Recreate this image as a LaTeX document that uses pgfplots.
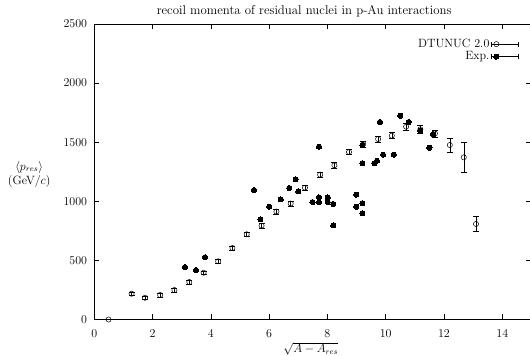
\documentclass[12pt,border=0pt]{standalone}
\usepackage{pgfplots}
\pgfplotsset{compat=1.18}
\begin{document}
\begin{tikzpicture}
\begin{axis}[
  scale only axis, width=437.1pt, height=295.5pt,
  at={(0,0)}, anchor=south west,
  xmin=0, xmax=15, ymin=0, ymax=2500,
  xtick={0,2,...,14}, ytick={0,500,...,2500},
  /pgf/number format/set thousands separator={},
  tick align=inside, major tick length=5pt,
  tick style={black, line width=0.5pt},
  axis line style={line width=0.5pt},
  yticklabel style={xshift=-3pt},
  xticklabel style={yshift=-6pt},
  title={recoil momenta of residual nuclei in p-Au interactions},
  title style={font=\fontsize{12.8}{15}\selectfont, at={(axis description cs:0.48,1)}, anchor=base, yshift=3.5pt, inner sep=0pt},
  xlabel={$\sqrt{A-A_{res}}$},
  xlabel style={at={(axis description cs:0.495,0)}, anchor=north, yshift=-22.5pt, inner sep=0pt},
  ylabel={$\langle p_{res}\rangle$\\(GeV/$c$)},
  ylabel style={rotate=-90, at={(axis description cs:-0.149,0.491)}, anchor=center, align=center, inner sep=0pt},
  legend style={draw=none, fill=none, at={(axis description cs:0.970,0.954)}, anchor=north east,
    legend cell align=right, row sep=0pt, inner sep=0pt,
    nodes={inner sep=1.2pt}},
  legend plot pos=right,
  legend image code/.code={
    \draw[black, line width=0.5pt] (0pt,0pt) -- (27pt,0pt);
    \draw[black, line width=0.5pt] (0pt,-2.5pt) -- (0pt,2.5pt) (27pt,-2.5pt) -- (27pt,2.5pt);
    \draw[#1] plot coordinates {(5.5pt,0pt)};
  },
]
\addplot+[only marks, black, mark=o, mark size=2.6pt, mark options={line width=0.5pt, fill=none},
  error bars/.cd, y dir=both, y explicit,
  error bar style={line width=0.5pt},
  error mark options={rotate=90, mark size=3pt, line width=0.5pt}]
  table[x=x, y=y, y error=e] {
x y e
0.49 0 0
1.28 218 15
1.74 184 15
2.26 207 15
2.75 249 15
3.26 317 15
3.75 396 15
4.25 492 15
4.74 605 15
5.23 721 18
5.74 794 20
6.25 913 20
6.74 981 20
7.23 1115 22
7.75 1225 22
8.24 1305 22
8.74 1417 22
9.23 1485 25
9.74 1527 25
10.21 1555 25
10.70 1631 30
11.19 1609 32
11.69 1575 30
12.20 1476 57
12.68 1372 124
13.10 808 65
};
\addlegendentry{DTUNUC 2.0}
\addplot+[only marks, black, mark=*, mark size=2.6pt, mark options={fill=black, line width=0pt}]
  table[x=x, y=y] {
x y
3.11 444
3.49 419
3.80 526
5.48 1096
5.70 848
6.00 954
6.40 1017
6.69 1112
6.91 1186
7.00 1085
7.49 994
7.71 1462
7.71 1034
7.71 994
8.01 1034
8.01 994
8.20 977
8.20 797
8.99 1056
8.99 954
9.20 983
9.20 898
9.20 1321
9.20 1476
9.61 1321
9.70 1343
9.91 1394
10.28 1394
9.80 1671
10.50 1724
10.79 1671
11.19 1597
11.50 1453
11.62 1567
};
\addlegendentry{Exp.}
\end{axis}
\pgfresetboundingbox
\useasboundingbox (-94.3pt,-36.5pt) rectangle (435.7pt,319.5pt);
\end{tikzpicture}
\end{document}
